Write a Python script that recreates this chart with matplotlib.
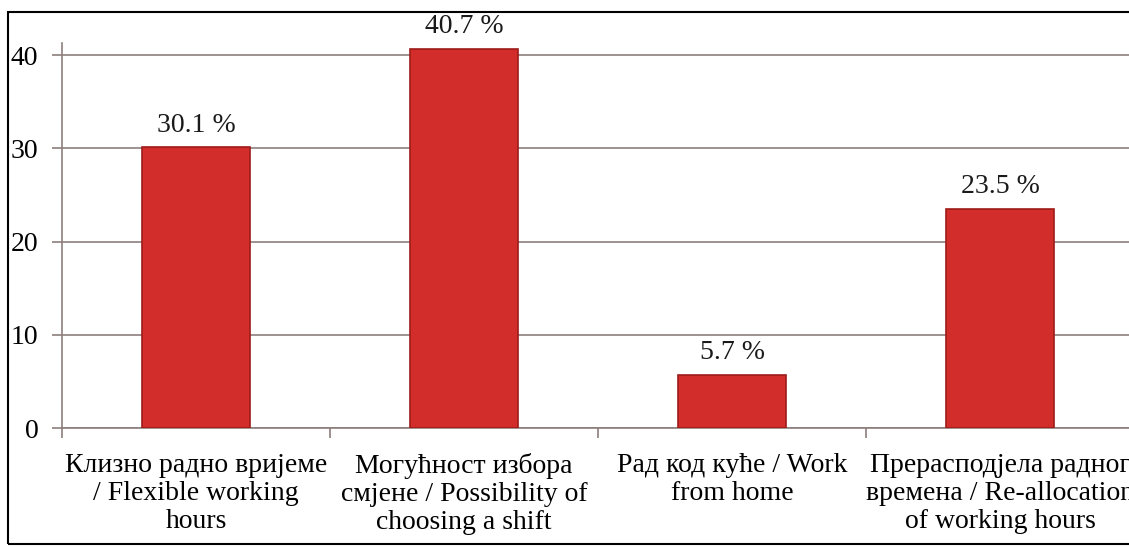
import matplotlib.pyplot as plt
from matplotlib.patches import Rectangle

# ── Data ──────────────────────────────────────────────────────────────────────
categories = [
    'Клизно радно вријеме\n/ Flexible working\nhours',
    'Могућност избора\nсмјене / Possibility of\nchoosing a shift',
    'Рад код куће / Work\nfrom home',
    'Прерасподјела радног\nвремена / Re-allocation\nof working hours',
]
values = [30.1, 40.7, 5.7, 23.5]
value_labels = ['30.1 %', '40.7 %', '5.7 %', '23.5 %']
y_ticks = [0, 10, 20, 30, 40]

GRID = '#8c7f7b'
BAR = '#d32d2b'
EDGE = '#9e1c1a'
FS = 20

plt.rcParams['font.family'] = ['Liberation Serif', 'DejaVu Serif']

fig = plt.figure(figsize=(11.29, 5.47), dpi=100)
# plot area: y-axis at x=62px, x=0 at y=428px, extends slightly past the right edge
ax = fig.add_axes([62 / 1129, 119 / 547, 1072 / 1129, 385 / 547])

x = list(range(len(categories)))
ax.bar(x, values, width=0.4, color=BAR, edgecolor=EDGE, linewidth=1.2, zorder=3)

for xi, v, lab in zip(x, values, value_labels):
    ax.annotate(lab, (xi, v), xytext=(0, 7), textcoords='offset points',
                ha='center', va='bottom', fontsize=FS, color='#1a1a1a')

ax.set_xlim(-0.5, len(categories) - 0.5)
ax.set_ylim(0, 41.3)
ax.set_yticks(y_ticks)
ax.set_yticklabels([str(t) for t in y_ticks], fontsize=FS)
ax.yaxis.grid(True, color=GRID, linewidth=1.2, zorder=0)

ax.set_xticks(x)
ax.set_xticklabels(categories, fontsize=FS, linespacing=1.17)
ax.set_xticks([i + 0.5 for i in x[:-1]] + [-0.5], minor=True)
ax.tick_params(axis='x', which='major', length=0, pad=18)
ax.tick_params(axis='x', which='minor', length=7, color=GRID, width=1.2)
ax.tick_params(axis='y', length=7, color=GRID, width=1.2, pad=10)

for side in ['top', 'right']:
    ax.spines[side].set_visible(False)
for side in ['left', 'bottom']:
    ax.spines[side].set_color(GRID)
    ax.spines[side].set_linewidth(1.2)

# black frame around the figure (cropped on the right)
fig.patches.append(Rectangle((8 / 1129, 3 / 547), 1.1, 532 / 547,
                             transform=fig.transFigure, fill=False,
                             edgecolor='black', linewidth=1.5))

fig.savefig('out.png', dpi=100)
